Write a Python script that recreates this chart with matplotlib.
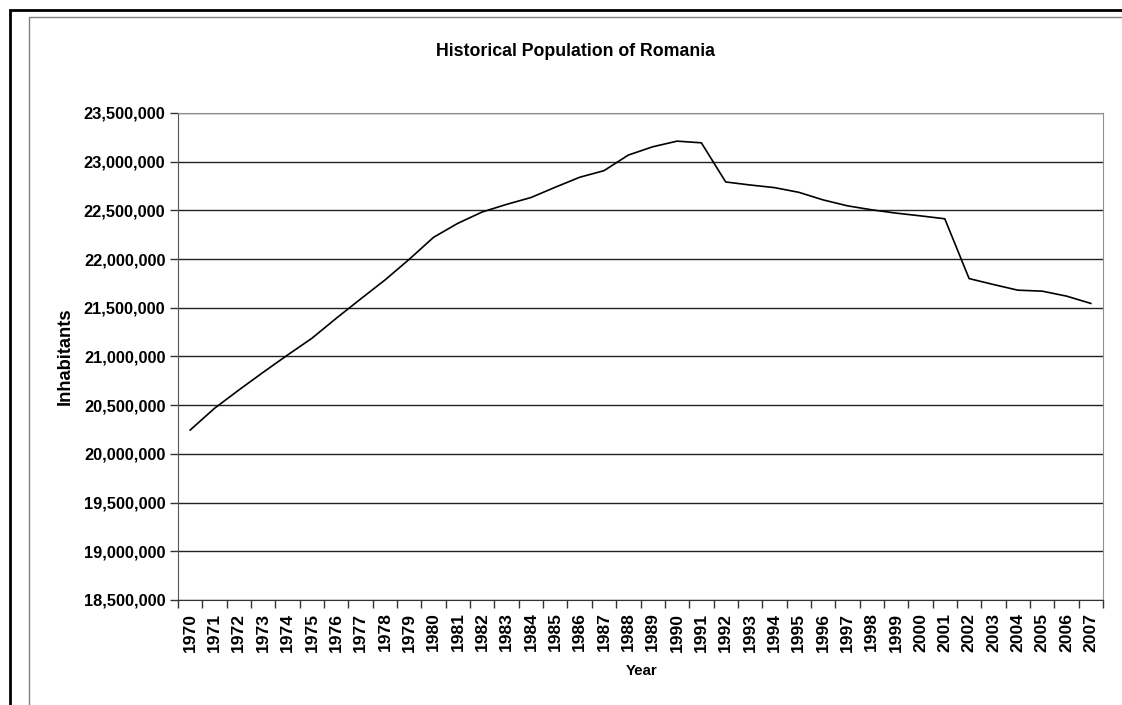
import numpy as np
import matplotlib
matplotlib.use('Agg')
import matplotlib.pyplot as plt
from matplotlib.patches import Rectangle
from matplotlib.ticker import FixedLocator, FuncFormatter

# Données
annees = [str(a) for a in range(1970, 2008)]
population = [20245000, 20468000, 20656000, 20838000, 21015000, 21187000,
              21392000, 21590000, 21785000, 21998000, 22224000, 22368000,
              22484000, 22562000, 22632000, 22738000, 22840000, 22908000,
              23068000, 23153000, 23211000, 23194000, 22792000, 22761000,
              22734000, 22686000, 22608000, 22547000, 22506000, 22472000,
              22444000, 22414000, 21800000, 21739000, 21681000, 21671000,
              21620000, 21545000]
y_ticks = list(range(18500000, 23500001, 500000))

W, H = 1122, 705
plt.rcParams['font.family'] = ['Liberation Sans', 'DejaVu Sans']
plt.rcParams['font.weight'] = 'bold'

fig = plt.figure(figsize=(W / 100, H / 100), dpi=100)

# Cadres extérieurs (coupés à droite et en bas)
fig.patches.append(Rectangle((10 / W, -0.2), 1.3, (H - 10) / H + 0.2,
                             transform=fig.transFigure, fill=False,
                             edgecolor='black', linewidth=2.0))
fig.patches.append(Rectangle((29 / W, -0.2), 1.3, (H - 17) / H + 0.2,
                             transform=fig.transFigure, fill=False,
                             edgecolor='#808080', linewidth=1.0))

ax = fig.add_axes([178 / W, 1 - 600 / H, (1103 - 178) / W, (600 - 113) / H])

x = np.arange(len(annees))
ax.plot(x, population, color='black', linewidth=1.2)

ax.set_xlim(-0.5, len(annees) - 0.5)
ax.set_ylim(y_ticks[0], y_ticks[-1])

# Axe Y
ax.set_yticks(y_ticks)
ax.yaxis.set_major_formatter(FuncFormatter(lambda v, p: f'{int(v):,}'))
ax.tick_params(axis='y', direction='out', length=6, width=1, color='#333333',
               labelsize=11.8, pad=3)
ax.grid(True, axis='y', color='#222222', linewidth=1)

# Axe X : graduations entre catégories, étiquettes au centre
ax.xaxis.set_major_locator(FixedLocator(np.arange(-0.5, len(annees), 1.0)))
ax.xaxis.set_minor_locator(FixedLocator(x))
ax.set_xticklabels([])
ax.set_xticklabels(annees, minor=True, rotation=90)
ax.tick_params(axis='x', which='major', direction='out', length=6, width=1,
               color='#333333')
ax.tick_params(axis='x', which='minor', length=0, labelsize=12.6, pad=9)

for lbl in ax.get_xticklabels(minor=True) + ax.get_yticklabels():
    lbl.set_fontweight('bold')

ax.spines['left'].set_color('#555555')
ax.spines['bottom'].set_color('#333333')
ax.spines['top'].set_color('#909090')
ax.spines['right'].set_color('#909090')

fig.text(575 / W, 1 - 52 / H, 'Historical Population of Romania',
         ha='center', va='center', fontsize=12.8, fontweight='bold')
fig.text(65 / W, 1 - 356 / H, 'Inhabitants', rotation=90,
         ha='center', va='center', fontsize=13.2, fontweight='bold')
fig.text(642 / W, 1 - 671 / H, 'Year', ha='center', va='center',
         fontsize=10.8, fontweight='bold')

fig.savefig('out.png', dpi=100)
